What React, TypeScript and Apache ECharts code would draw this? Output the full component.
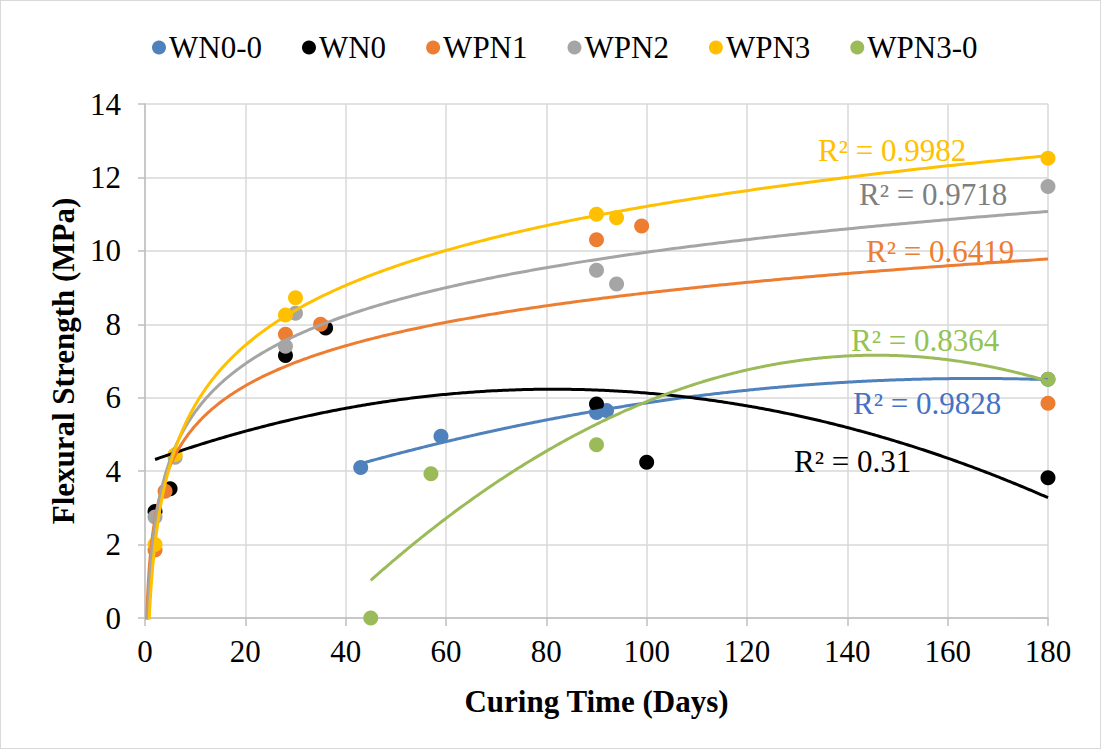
import React, { useEffect, useRef } from "react";
import * as echarts from "echarts";

// ---- data ----
const seriesNames = ["WN0-0", "WN0", "WPN1", "WPN2", "WPN3", "WPN3-0"];

const wn00Days = [43, 59, 90, 92, 180];
const wn00Vals = [4.1, 4.95, 5.6, 5.65, 6.5];

const wn0Days = [2, 5, 28, 36, 90, 100, 180];
const wn0Vals = [2.9, 3.52, 7.15, 7.9, 5.83, 4.24, 3.82];

const wpn1Days = [2, 4, 28, 35, 90, 99, 180];
const wpn1Vals = [1.85, 3.45, 7.73, 8.0, 10.3, 10.68, 5.85];

const wpn2Days = [2, 6, 28, 30, 90, 94, 180];
const wpn2Vals = [2.75, 4.38, 7.4, 8.3, 9.47, 9.1, 11.75];

const wpn3Days = [2, 6, 28, 30, 90, 94, 180];
const wpn3Vals = [2.0, 4.45, 8.25, 8.72, 11.0, 10.9, 12.52];

const wpn30Days = [45, 57, 90, 180];
const wpn30Vals = [0, 3.93, 4.72, 6.5];

// trendline type per series (as in the original workbook)
const trendTypes = ["poly2", "poly2", "log", "log", "log", "poly2"];
const r2Labels = ["R² = 0.9828", "R² = 0.31", "R² = 0.6419", "R² = 0.9718", "R² = 0.9982", "R² = 0.8364"];

const xTicks = [0, 20, 40, 60, 80, 100, 120, 140, 160, 180];
const yTicks = [0, 2, 4, 6, 8, 10, 12, 14];

// ---- styles ----
const pointColors = ["#4F81BD", "#000000", "#ED7D31", "#A5A5A5", "#FFC000", "#9BBB59"];
const lineColors = ["#4F81BD", "#000000", "#ED7D31", "#A5A5A5", "#FFC000", "#9BBB59"];
const labelColors = ["#4472C4", "#000000", "#ED7D31", "#7F7F7F", "#FFC000", "#92C353"];
const labelPos = [
  [852, 402],
  [793, 460],
  [865, 250],
  [858, 193],
  [817, 149],
  [850, 339],
];

const FONT = "Liberation Serif";

function fitLog(xs: number[], ys: number[]) {
  const n = xs.length;
  const lx = xs.map((x) => Math.log(x));
  const mx = lx.reduce((a, b) => a + b, 0) / n;
  const my = ys.reduce((a, b) => a + b, 0) / n;
  let sxy = 0, sxx = 0;
  for (let i = 0; i < n; i++) {
    sxy += (lx[i] - mx) * (ys[i] - my);
    sxx += (lx[i] - mx) * (lx[i] - mx);
  }
  const b = sxy / sxx;
  const a = my - b * mx;
  return (x: number) => a + b * Math.log(x);
}

function fitPoly2(xs: number[], ys: number[]) {
  const S = [0, 0, 0, 0, 0];
  const T = [0, 0, 0];
  for (let i = 0; i < xs.length; i++) {
    let p = 1;
    for (let k = 0; k < 5; k++) {
      S[k] += p;
      if (k < 3) T[k] += p * ys[i];
      p *= xs[i];
    }
  }
  const M = [
    [S[0], S[1], S[2], T[0]],
    [S[1], S[2], S[3], T[1]],
    [S[2], S[3], S[4], T[2]],
  ];
  for (let c = 0; c < 3; c++) {
    let piv = c;
    for (let r = c + 1; r < 3; r++) if (Math.abs(M[r][c]) > Math.abs(M[piv][c])) piv = r;
    [M[c], M[piv]] = [M[piv], M[c]];
    for (let r = 0; r < 3; r++) {
      if (r === c) continue;
      const f = M[r][c] / M[c][c];
      for (let k = c; k < 4; k++) M[r][k] -= f * M[c][k];
    }
  }
  const c0 = M[0][3] / M[0][0];
  const c1 = M[1][3] / M[1][1];
  const c2 = M[2][3] / M[2][2];
  return (x: number) => c0 + c1 * x + c2 * x * x;
}

export default function App() {
  const ref = useRef<HTMLDivElement>(null);
  useEffect(() => {
    if (!ref.current) return;
    const chart = echarts.init(ref.current, undefined, { renderer: "svg" });
    const allDays = [wn00Days, wn0Days, wpn1Days, wpn2Days, wpn3Days, wpn30Days];
    const allVals = [wn00Vals, wn0Vals, wpn1Vals, wpn2Vals, wpn3Vals, wpn30Vals];

    const scatterSeries = seriesNames.map((name, i) => ({
      name,
      type: "scatter",
      symbol: "circle",
      symbolSize: 15,
      itemStyle: { color: pointColors[i], opacity: 1 },
      data: allDays[i].map((d, j) => [d, allVals[i][j]]),
      z: 2,
    }));

    const trendSeries = seriesNames.map((name, i) => {
      const xs = allDays[i];
      const ys = allVals[i];
      const f = trendTypes[i] === "log" ? fitLog(xs, ys) : fitPoly2(xs, ys);
      const x0 = trendTypes[i] === "log" ? 0.1 : Math.min(...xs);
      const x1 = Math.max(...xs);
      const pts: number[][] = [];
      const N = 400;
      for (let k = 0; k <= N; k++) {
        const t = k / N;
        const x = trendTypes[i] === "log" ? x0 + (x1 - x0) * t * t : x0 + (x1 - x0) * t;
        pts.push([x, f(x)]);
      }
      return {
        name: name + " trend",
        type: "line",
        data: pts,
        showSymbol: false,
        symbol: "none",
        clip: true,
        lineStyle: { color: lineColors[i], width: 3 },
        z: 3,
        silent: true,
      };
    });

    const graphics = r2Labels.map((t, i) => ({
      type: "text",
      x: labelPos[i][0],
      y: labelPos[i][1],
      z: 10,
      style: {
        text: t,
        fill: labelColors[i],
        fontSize: 31,
        fontFamily: FONT,
        textVerticalAlign: "middle",
        verticalAlign: "middle",
      },
    }));

    chart.setOption({
      animation: false,
      backgroundColor: "#ffffff",
      textStyle: { fontFamily: FONT },
      legend: {
        data: seriesNames.map((n) => ({ name: n, icon: "circle" })),
        top: 26,
        left: 146,
        itemWidth: 14,
        itemHeight: 14,
        itemGap: 40,
        textStyle: { fontSize: 31, color: "#000", fontFamily: FONT, padding: [0, 0, 0, -2] },
      },
      grid: { left: 144, right: 52, top: 103, bottom: 130, containLabel: false },
      xAxis: {
        type: "value",
        min: xTicks[0],
        max: xTicks[xTicks.length - 1],
        interval: xTicks[1] - xTicks[0],
        name: "Curing Time (Days)",
        nameLocation: "middle",
        nameGap: 68,
        nameTextStyle: { fontSize: 31, fontWeight: "bold", color: "#000", fontFamily: FONT },
        axisLine: { show: true, lineStyle: { color: "#BFBFBF", width: 1.5 } },
        axisTick: { show: true, inside: false, length: 8, lineStyle: { color: "#BFBFBF", width: 1.5 } },
        axisLabel: { fontSize: 31, color: "#000", margin: 18, fontFamily: FONT },
        splitLine: { show: true, lineStyle: { color: "#D9D9D9", width: 1.5 } },
      },
      yAxis: {
        type: "value",
        min: yTicks[0],
        max: yTicks[yTicks.length - 1],
        interval: yTicks[1] - yTicks[0],
        name: "Flexural Strength (MPa)",
        nameLocation: "middle",
        nameGap: 58,
        nameRotate: 90,
        nameTextStyle: { fontSize: 31, fontWeight: "bold", color: "#000", fontFamily: FONT },
        axisLine: { show: true, lineStyle: { color: "#BFBFBF", width: 1.5 } },
        axisTick: { show: true, inside: false, length: 7, lineStyle: { color: "#BFBFBF", width: 1.5 } },
        axisLabel: { fontSize: 31, color: "#000", margin: 24, fontFamily: FONT },
        splitLine: { show: true, lineStyle: { color: "#D9D9D9", width: 1.5 } },
      },
      graphic: graphics,
      series: [...scatterSeries, ...trendSeries],
    });
    return () => chart.dispose();
  }, []);

  return (
    <div
      style={{
        position: "fixed",
        left: 0,
        top: 0,
        width: 1101,
        height: 749,
        background: "#fff",
        boxSizing: "border-box",
        border: "1.5px solid #D9D9D9",
      }}
    >
      <div ref={ref} style={{ width: "100%", height: "100%" }} />
    </div>
  );
}
